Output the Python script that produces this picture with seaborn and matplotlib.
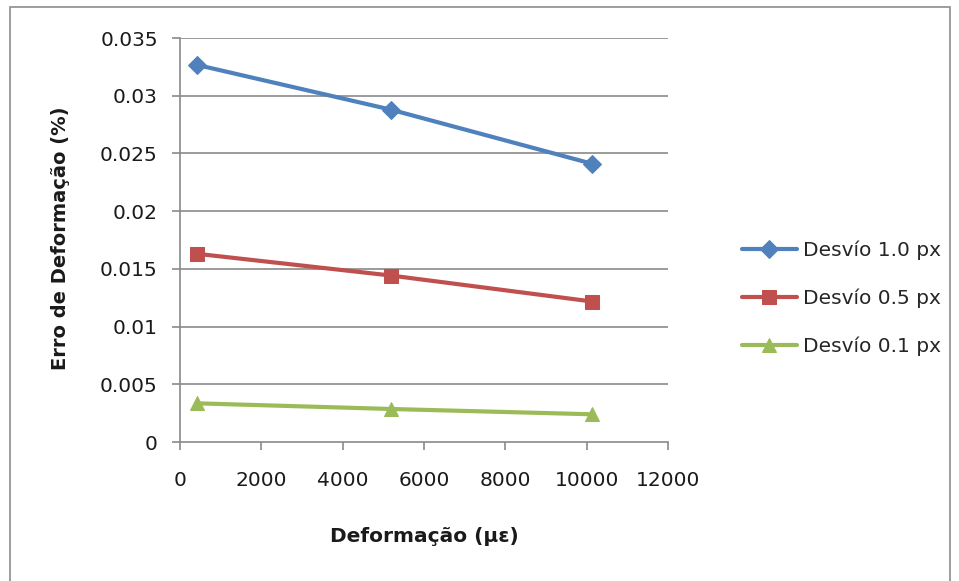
import matplotlib
matplotlib.use("Agg")
import matplotlib.pyplot as plt
from matplotlib.patches import Rectangle
import pandas as pd
import seaborn as sns

# Strain levels (microstrain) and the strain error for each pixel deviation
deformacao = [430, 5190, 10140]
erro_1_0 = [0.03266, 0.02879, 0.02410]
erro_0_5 = [0.01630, 0.01442, 0.01217]
erro_0_1 = [0.00335, 0.00286, 0.00240]
series_names = ["Desvío 1.0 px", "Desvío 0.5 px", "Desvío 0.1 px"]
x_ticks = [0, 2000, 4000, 6000, 8000, 10000, 12000]
y_ticks = [0, 0.005, 0.01, 0.015, 0.02, 0.025, 0.03, 0.035]
y_tick_labels = ["0", "0.005", "0.01", "0.015", "0.02", "0.025", "0.03", "0.035"]

colors = ["#4F81BD", "#C0504D", "#9BBB59"]
markers = ["D", "s", "^"]
marker_sizes = [12.5, 13, 14]
legend_marker_sizes = [9, 10.5, 10.5]

frames = []
for name, vals in zip(series_names, [erro_1_0, erro_0_5, erro_0_1]):
    frames.append(pd.DataFrame({"Deformação": deformacao, "Erro": vals, "Série": name}))
df = pd.concat(frames, ignore_index=True)

sns.set_style("white")
plt.rcParams["font.family"] = ["DejaVu Sans"]

fig = plt.figure(figsize=(9.59, 5.81), dpi=100)
ax = fig.add_axes([180 / 959, 1 - 442 / 581, (668 - 180) / 959, (442 - 38) / 581])

# Outer chart border
fig.patches.append(Rectangle((10 / 959, -0.02), 940 / 959, 1 - 7 / 581 + 0.02,
                             transform=fig.transFigure, fill=False,
                             edgecolor="#8c8c8c", linewidth=1.2, zorder=0))

for ax_y in y_ticks[1:]:
    ax.axhline(ax_y, color="#8a8a8a", linewidth=1.2, zorder=0)

for name, c, m, ms in zip(series_names, colors, markers, marker_sizes):
    sns.lineplot(data=df[df["Série"] == name], x="Deformação", y="Erro",
                 color=c, marker=m, markersize=ms, markeredgecolor=c,
                 linewidth=3.3, ax=ax, label=name, errorbar=None, zorder=3)

ax.set_xlim(0, 12000)
ax.set_ylim(0, 0.035)
ax.set_xticks(x_ticks)
ax.set_xticklabels([str(t) for t in x_ticks])
ax.set_yticks(y_ticks)
ax.set_yticklabels(y_tick_labels)
ax.tick_params(axis="both", which="major", labelsize=14.5, colors="#8a8a8a",
               labelcolor="#1a1a1a", length=6, width=1.2, direction="out",
               bottom=True, left=True)
ax.tick_params(axis="x", pad=15)
ax.tick_params(axis="y", pad=10)

for side in ["top", "right"]:
    ax.spines[side].set_visible(False)
for side in ["left", "bottom"]:
    ax.spines[side].set_color("#8a8a8a")
    ax.spines[side].set_linewidth(1.2)

ax.set_xlabel("")
ax.set_ylabel("")
fig.text(424 / 959, 1 - 537 / 581, "Deformação (με)", ha="center", va="center",
         fontsize=14.5, fontweight="bold", color="#1a1a1a")
fig.text(60 / 959, 1 - 238 / 581, "Erro de Deformação (%)", ha="center", va="center",
         rotation=90, fontsize=14, fontweight="bold", color="#1a1a1a")

handles, labels = ax.get_legend_handles_labels()
for h, lms in zip(handles, legend_marker_sizes):
    h.set_markersize(lms)
    h.set_linewidth(3.0)
ax.legend_.remove()
fig.legend(handles, labels, loc="center left",
           bbox_to_anchor=(742 / 959, 1 - 298 / 581), frameon=False,
           borderpad=0, borderaxespad=0,
           fontsize=14.5, handlelength=2.73, handletextpad=0.3, labelspacing=1.42)

fig.savefig("out.png", dpi=100)
